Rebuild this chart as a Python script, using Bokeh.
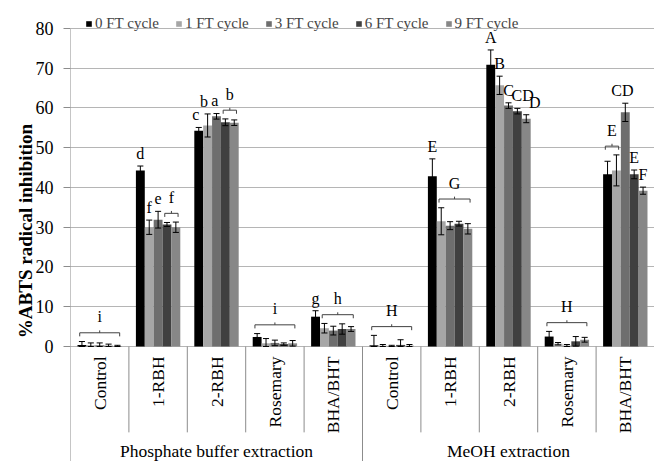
import math
from bokeh.plotting import figure
from bokeh.models import (ColumnDataSource, FactorRange, Range1d, FixedTicker,
                          Legend, LegendItem)
from bokeh.core.properties import value
from bokeh.embed import file_html
from bokeh.resources import INLINE

# ---------------- data ----------------
groups = ["Phosphate buffer extraction", "MeOH extraction"]
samples = ["Control", "1-RBH", "2-RBH", "Rosemary", "BHA/BHT"]
series_names = ["0 FT cycle", "1 FT cycle", "3 FT cycle", "6 FT cycle", "9 FT cycle"]

# values per series across the 10 categories (phosphate 5, then MeOH 5)
ft0 = [0.4, 44.3, 54.3, 2.4, 7.5, 0.3, 42.8, 70.9, 2.5, 43.3]
ft1 = [0.3, 30.0, 55.6, 0.8, 4.6, 0.2, 31.5, 65.7, 0.7, 44.3]
ft3 = [0.3, 31.9, 57.9, 0.9, 4.0, 0.1, 30.4, 60.6, 0.2, 58.9]
ft6 = [0.2, 30.7, 56.4, 0.6, 4.4, 0.4, 30.9, 59.2, 1.3, 43.3]
ft9 = [0.1, 30.0, 56.3, 0.8, 4.4, 0.2, 29.6, 57.3, 1.7, 39.2]

err0 = [0.85, 1.1, 0.8, 0.85, 1.5, 2.5, 4.4, 3.7, 1.3, 3.3]
err1 = [0.6, 1.8, 2.9, 1.2, 1.2, 0.3, 3.4, 2.3, 0.3, 3.9]
err3 = [0.6, 2.1, 0.7, 0.7, 1.1, 0.2, 1.0, 0.7, 0.3, 2.3]
err6 = [0.4, 0.5, 0.85, 0.3, 1.3, 1.3, 0.6, 0.7, 1.2, 1.1]
err9 = [0.2, 1.3, 0.7, 0.7, 0.6, 0.3, 1.3, 1.0, 0.6, 0.9]

y_ticks = [0, 10, 20, 30, 40, 50, 60, 70, 80]

# significance letters: (category index, first series, last series, letter)
letters = [
    (0, 0, 4, "i"),
    (1, 0, 0, "d"), (1, 1, 1, "f"), (1, 2, 2, "e"), (1, 3, 4, "f"),
    (2, 0, 0, "c"), (2, 1, 1, "b"), (2, 2, 2, "a"), (2, 3, 4, "b"),
    (3, 0, 4, "i"),
    (4, 0, 0, "g"), (4, 1, 4, "h"),
    (5, 0, 4, "H"),
    (6, 0, 0, "E"), (6, 1, 4, "G"),
    (7, 0, 0, "A"), (7, 1, 1, "B"), (7, 2, 2, "C"), (7, 3, 3, "CD"), (7, 4, 4, "D"),
    (8, 0, 4, "H"),
    (9, 0, 1, "E"), (9, 2, 2, "CD"), (9, 3, 3, "E"), (9, 4, 4, "F"),
]

# ---------------- style / layout ----------------
values_all = [ft0, ft1, ft3, ft6, ft9]
errs_all = [err0, err1, err3, err6, err9]
colors = ["#000000", "#A6A6A6", "#6E6E6E", "#404040", "#878787"]
SERIF = "Liberation Serif"
GRID = "#B5B5B5"
AXIS = "#8C8C8C"
BW = 0.152
START = -0.38
offsets = [START + BW * (i + 0.5) for i in range(5)]
CAP = 0.052
Y_LO, Y_HI = -28.93, 87.04
# small horizontal nudges (category units) for crowded letters: index in letters list
nudge = {5: -0.05, 6: -0.06, 7: -0.03, 18: 0.09, 19: 0.145, 22: -0.05}

factors = [(g, s) for g in groups for s in samples]

x_range = FactorRange(*factors, factor_padding=0, group_padding=0, range_padding=0)
y_range = Range1d(Y_LO, Y_HI)

p = figure(width=654, height=461, x_range=x_range, y_range=y_range,
           output_backend="svg", toolbar_location=None, x_axis_location=None,
           min_border_left=70, min_border_right=0, min_border_top=0,
           min_border_bottom=0)
p.outline_line_color = None
p.xgrid.visible = False
p.ygrid.grid_line_color = GRID
p.ygrid.grid_line_width = 1

ax = p.yaxis[0]
ax.ticker = FixedTicker(ticks=y_ticks, minor_ticks=[])
ax.axis_line_color = None
ax.major_tick_line_color = AXIS
ax.major_tick_out = 7
ax.major_tick_in = 0
ax.minor_tick_line_color = None
ax.major_label_text_font = SERIF
ax.major_label_text_font_size = "18px"
ax.major_label_text_color = "#000000"
ax.major_label_standoff = 10
ax.axis_label = "%ABTS radical inhibition"
ax.axis_label_text_font = SERIF
ax.axis_label_text_font_size = "19px"
ax.axis_label_text_font_style = "bold"
ax.axis_label_text_color = "#000000"
ax.axis_label_standoff = -3

# ---------------- bars ----------------
renderers = []
for i, (vals, col) in enumerate(zip(values_all, colors)):
    src = ColumnDataSource(dict(
        x=[(g, s, offsets[i]) for (g, s) in factors],
        top=vals,
    ))
    r = p.vbar(x="x", top="top", bottom=0, width=BW, source=src,
               fill_color=col, line_color=None)
    renderers.append(r)

# ---------------- error bars ----------------
ex, exl, exr, elo, ehi = [], [], [], [], []
for i in range(5):
    for k, (g, s) in enumerate(factors):
        v = values_all[i][k]
        e = errs_all[i][k]
        ex.append((g, s, offsets[i]))
        exl.append((g, s, offsets[i] - CAP))
        exr.append((g, s, offsets[i] + CAP))
        elo.append(max(0.0, v - e))
        ehi.append(v + e)
esrc = ColumnDataSource(dict(x=ex, xl=exl, xr=exr, lo=elo, hi=ehi))
p.segment(x0="x", y0="lo", x1="x", y1="hi", source=esrc, line_color="#000000", line_width=1)
p.segment(x0="xl", y0="hi", x1="xr", y1="hi", source=esrc, line_color="#000000", line_width=1)
p.segment(x0="xl", y0="lo", x1="xr", y1="lo", source=esrc, line_color="#000000", line_width=1)

# ---------------- significance letters and braces ----------------
tx, ty, tt = [], [], []
bx0, by0, bx1, by1 = [], [], [], []
for n, (ci, a, b, lab) in enumerate(letters):
    g, s = factors[ci]
    caps = [values_all[i][ci] + errs_all[i][ci] for i in range(a, b + 1)]
    top = max(caps)
    if a == b:
        tx.append((g, s, offsets[a] + nudge.get(n, 0.0)))
        ty.append(top + 3.2)
        tt.append(lab)
    else:
        left = offsets[a] - 0.25 * BW
        right = offsets[b] + 0.25 * BW
        mid = (left + right) / 2
        yb = top + 2.2
        segs = [((left, yb), (right, yb)),
                ((left, yb), (left, yb - 0.9)),
                ((right, yb), (right, yb - 0.9)),
                ((mid, yb), (mid, yb + 0.6))]
        for (xa, ya), (xb, yb2) in segs:
            bx0.append((g, s, xa)); by0.append(ya)
            bx1.append((g, s, xb)); by1.append(yb2)
        tx.append((g, s, mid))
        ty.append(yb + 4.0)
        tt.append(lab)

p.segment(x0="x0", y0="y0", x1="x1", y1="y1",
          source=ColumnDataSource(dict(x0=bx0, y0=by0, x1=bx1, y1=by1)),
          line_color="#404040", line_width=1)
p.text(x="x", y="y", text="t", source=ColumnDataSource(dict(x=tx, y=ty, t=tt)),
       text_font=value(SERIF), text_font_size=value("16px"),
       text_align="center", text_baseline="middle", text_color="#000000")

# ---------------- category axis drawn in the lower band ----------------
sep_x, sep_y0, sep_y1 = [], [], []
for k, (g, s) in enumerate(factors):
    if k == 0:
        sep_x.append((g, s, -0.5)); sep_y0.append(80); sep_y1.append(Y_LO)
        continue
    sep_x.append((g, s, -0.5))
    sep_y0.append(0)
    sep_y1.append(Y_LO if s == samples[0] else -21.6)
p.segment(x0="x", y0="y0", x1="x", y1="y1",
          source=ColumnDataSource(dict(x=sep_x, y0=sep_y0, y1=sep_y1)),
          line_color=AXIS, line_width=1)

p.text(x="x", y=-2.5, text="t",
       source=ColumnDataSource(dict(x=factors, t=[s for (g, s) in factors])),
       angle=math.pi / 2, text_font=value(SERIF), text_font_size=value("17.5px"),
       text_align="right", text_baseline="middle", text_color="#000000")

p.text(x="x", y=-26.2, text="t",
       source=ColumnDataSource(dict(x=[(g, samples[2]) for g in groups], t=groups)),
       text_font=value(SERIF), text_font_size=value("17.5px"),
       text_align="center", text_baseline="middle", text_color="#000000")

# ---------------- legend ----------------
legend = Legend(items=[LegendItem(label=nm, renderers=[r]) for nm, r in zip(series_names, renderers)],
                orientation="horizontal", location=(15, 429),
                label_text_font=SERIF, label_text_font_size="15px",
                glyph_width=7, glyph_height=7, label_standoff=3, spacing=16,
                padding=0, margin=0, border_line_color=None,
                background_fill_alpha=0, label_height=12)
p.add_layout(legend, "center")

open("out.html", "w").write(file_html(p, INLINE))
